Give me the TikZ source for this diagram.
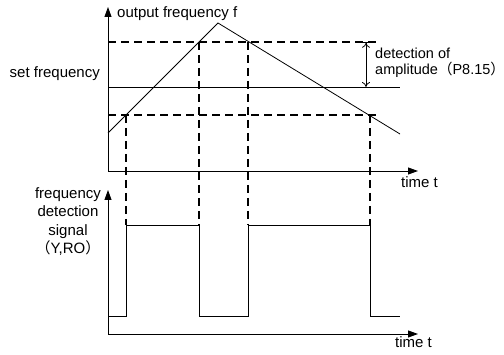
\documentclass[tikz,border=0pt]{standalone}
\usepackage{fontspec}
\setmainfont{Liberation Sans}
\newfontfamily\cjk{Noto Sans CJK SC}
\usetikzlibrary{arrows.meta}
\tikzstyle{axis}=[draw=black, line width=0.9pt, -{Triangle[length=10pt,width=7pt]}]
\tikzstyle{edge}=[draw=black, line width=0.8pt]
\tikzstyle{dashededge}=[draw=black, line width=2.2pt, dash pattern=on 8pt off 5pt]
\tikzstyle{plaintext}=[inner sep=0pt, font=\fontsize{15}{18.5}\selectfont]

\begin{document}
\begin{tikzpicture}[x=1pt, y=-1pt]
	\useasboundingbox (0, 0) rectangle (504, 355);
	% upper plot
	\coordinate (o1) at (108, 171);
	\coordinate (y1) at (108, 7);
	\coordinate (x1) at (418, 171);
	\coordinate (a) at (108, 133);
	\coordinate (p) at (218, 23);
	\coordinate (b) at (400, 134);
	\coordinate (s0) at (108, 87);
	\coordinate (s1) at (400, 87);
	\coordinate (u0) at (108, 42);
	\coordinate (u1) at (378, 42);
	\coordinate (l0) at (108, 115);
	\coordinate (l1) at (378, 115);
	\coordinate (m0) at (366, 42);
	\coordinate (m1) at (366, 87);
	% lower plot
	\coordinate (o2) at (108, 334);
	\coordinate (y2) at (108, 190);
	\coordinate (x2) at (418, 334);
	\coordinate (q0) at (108, 316);
	\coordinate (q1) at (126, 225);
	\coordinate (q2) at (199, 225);
	\coordinate (q3) at (248, 225);
	\coordinate (q4) at (370, 225);
	\coordinate (q5) at (400, 316);

	\node [style=plaintext, anchor=base west] (outf) at (117, 18) {output frequency f};
	\node [style=plaintext, anchor=base east] (setf) at (100, 78) {set frequency};
	\node [style=plaintext, anchor=north west, align=left, font=\fontsize{14.5}{15.5}\selectfont] (amp) at (375, 48) {detection of\\amplitude{\cjk （}P8.15{\cjk ）}\hspace{-0.5em}};
	\node [style=plaintext, anchor=base west] (t1) at (401, 188) {time t};
	\node [style=plaintext, anchor=north, align=center] (sig) at (68, 187) {frequency\\detection\\signal\\{\cjk （}Y,RO{\cjk ）}};
	\node [style=plaintext, anchor=base west] (t2) at (395, 348) {time t};

	\draw [style=axis] (o1) to (y1);
	\draw [style=axis] (o1) to (x1);
	\draw [style=edge] (a) to (p) to (b);
	\draw [style=edge] (s0) to (s1);
	\draw [style=edge, {Bar[width=12pt]To[length=5pt,width=8pt]}-{To[length=5pt,width=8pt]}] (m0) to (m1);
	\draw [style=dashededge] (u0) to (u1);
	\draw [style=dashededge] (l0) to (l1);
	\draw [style=dashededge] (q1 |- l0) to (q1);
	\draw [style=dashededge] (q2 |- u0) to (q2);
	\draw [style=dashededge] (q3 |- u0) to (q3);
	\draw [style=dashededge] (q4 |- l0) to (q4);

	\draw [style=axis] (o2) to (y2);
	\draw [style=axis] (o2) to (x2);
	\draw [style=edge] (q0) -- (q0 -| q1) -- (q1) -- (q2) -- (q2 |- q0) -- (q3 |- q0) -- (q3) -- (q4) -- (q4 |- q0) -- (q5);
\end{tikzpicture}
\end{document}
